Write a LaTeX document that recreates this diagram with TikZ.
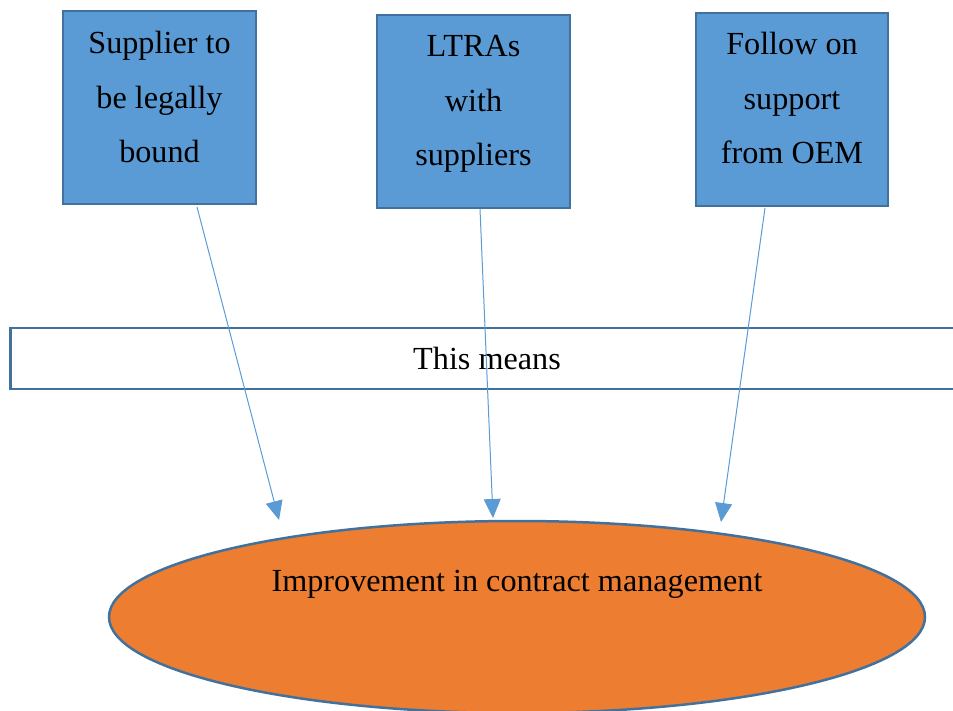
\documentclass[tikz,border=0pt]{standalone}
\usepackage{fontspec}
\setmainfont{Liberation Serif}
\usetikzlibrary{arrows.meta}
\definecolor{boxblue}{HTML}{5B9BD5}
\definecolor{edgeblue}{HTML}{41719C}
\definecolor{ovalorange}{HTML}{ED7D31}
\tikzset{
  cause/.style={draw=edgeblue, line width=2pt, fill=boxblue, rectangle, inner sep=0pt},
  causetext/.style={align=center, inner sep=0pt, font=\fontsize{32.2}{54.5}\selectfont},
  link/.style={draw=boxblue, line width=1pt, -{Triangle[length=19pt,width=17pt]}},
}
\begin{document}
\begin{tikzpicture}[x=1pt,y=-1pt]
\useasboundingbox (0,0) rectangle (953,711);
\begin{scope}
\clip (0,0) rectangle (953,711);
% three source boxes
\node[cause, minimum width=193pt, minimum height=193pt] (b1) at (159.5,107.5) {};
\node[cause, minimum width=193pt, minimum height=193pt] (b2) at (473.5,111.5) {};
\node[cause, minimum width=192pt, minimum height=193pt] (b3) at (792,109.5) {};
% box captions, placed by the baseline of their last line
\node[causetext, anchor=base] (t1) at (159.5,163) {Supplier to\\be legally\\bound};
\node[causetext, anchor=base] (t2) at (473.5,166) {LTRAs\\with\\suppliers};
\node[causetext, anchor=base] (t3) at (792,164) {Follow on\\support\\from OEM};
% banner
\node[draw=edgeblue, line width=2.6pt, rectangle, minimum width=970pt, minimum height=61pt, anchor=west] (banner) at (9,358.5) {};
\node[causetext, anchor=base] (bt) at (487,369) {This means};
% result ellipse
\draw[draw=edgeblue, line width=2.5pt, fill=ovalorange] (517,617) ellipse [x radius=408, y radius=96];
\coordinate (oval) at (517,617);
\node[causetext, anchor=base] (ot) at (517,591) {Improvement in contract management};
% connectors
\coordinate (s1) at (197,207);
\coordinate (e1) at (279,520);
\coordinate (s2) at (480,209);
\coordinate (e2) at (493,518);
\coordinate (s3) at (765,208);
\coordinate (e3) at (721,522);
\draw[link] (s1) -- (e1);
\draw[link] (s2) -- (e2);
\draw[link] (s3) -- (e3);
\end{scope}
\end{tikzpicture}
\end{document}
